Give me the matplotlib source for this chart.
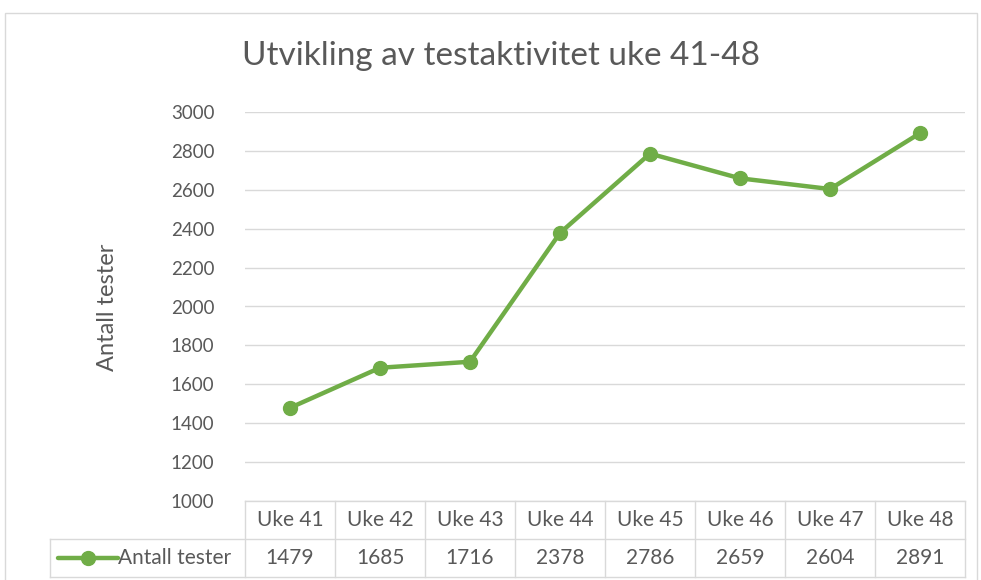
import matplotlib
matplotlib.use("Agg")
import matplotlib.pyplot as plt
from matplotlib.patches import Rectangle
from matplotlib.lines import Line2D

categories = ["Uke 41", "Uke 42", "Uke 43", "Uke 44", "Uke 45", "Uke 46", "Uke 47", "Uke 48"]
values = [1479, 1685, 1716, 2378, 2786, 2659, 2604, 2891]
series_name = "Antall tester"
title = "Utvikling av testaktivitet uke 41-48"
ylabel = "Antall tester"
yticks = [1000, 1200, 1400, 1600, 1800, 2000, 2200, 2400, 2600, 2800, 3000]

plt.rcParams['font.family'] = ['Lato', 'DejaVu Sans']
green = "#70AD47"
txt = "#595959"
gridc = "#D9D9D9"

W, H = 981, 580
fig = plt.figure(figsize=(W/100, H/100), dpi=100)

def fx(x): return x / W
def fy(y): return 1 - y / H

# chart border
fig.patches.append(Rectangle((fx(5), fy(590)), fx(977) - fx(5), fy(13) - fy(590),
                             transform=fig.transFigure, fill=False, edgecolor="#D9D9D9", lw=1))

left, right, top, bottom = 245, 965, 112, 501
ax = fig.add_axes([fx(left), fy(bottom), fx(right) - fx(left), fy(top) - fy(bottom)])
n = len(categories)
x = list(range(n))
ax.set_xlim(-0.5, n - 0.5)
ax.set_ylim(1000, 3000)
ax.set_yticks(yticks)
ax.yaxis.grid(True, color=gridc, lw=1)
ax.set_axisbelow(True)
ax.tick_params(axis='y', length=0, labelsize=13.5, labelcolor=txt, pad=22)
ax.set_xticks([])
for s in ax.spines.values():
    s.set_visible(False)
ax.plot(x, values, color=green, lw=3.2, marker='o', ms=10, solid_capstyle='round', zorder=3)

fig.text(fx(501), fy(56), title, ha='center', va='center', fontsize=24, color=txt)
fig.text(fx(108), fy(307), ylabel, ha='center', va='center', rotation=90, fontsize=17, color=txt)

# data table
row1_top, row1_bot, row2_bot = 501, 539, 577
tab_left = 50
lc = "#D9D9D9"
def hline(y, x0, x1):
    fig.add_artist(Line2D([fx(x0), fx(x1)], [fy(y), fy(y)], transform=fig.transFigure, color=lc, lw=1))
def vline(xp, y0, y1):
    fig.add_artist(Line2D([fx(xp), fx(xp)], [fy(y0), fy(y1)], transform=fig.transFigure, color=lc, lw=1))

hline(row1_top, left, right)
hline(row1_bot, tab_left, right)
hline(row2_bot, tab_left, right)
vline(tab_left, row1_bot, row2_bot)
cw = (right - left) / n
for i in range(n + 1):
    vline(left + i * cw, row1_top, row2_bot)
for i, (c, v) in enumerate(zip(categories, values)):
    cx = left + (i + 0.5) * cw
    fig.text(fx(cx), fy((row1_top + row1_bot) / 2), c, ha='center', va='center', fontsize=15, color=txt)
    fig.text(fx(cx), fy((row1_bot + row2_bot) / 2), str(v), ha='center', va='center', fontsize=15, color=txt)

ly = (row1_bot + row2_bot) / 2
fig.add_artist(Line2D([fx(58), fx(118)], [fy(ly), fy(ly)], transform=fig.transFigure,
                      color=green, lw=3.2, marker=None, solid_capstyle='round'))
fig.add_artist(Line2D([fx(88)], [fy(ly)], transform=fig.transFigure, color=green, marker='o', ms=10))
fig.text(fx(118), fy(ly), series_name, ha='left', va='center', fontsize=15, color=txt)

fig.savefig("out.png", dpi=100)
